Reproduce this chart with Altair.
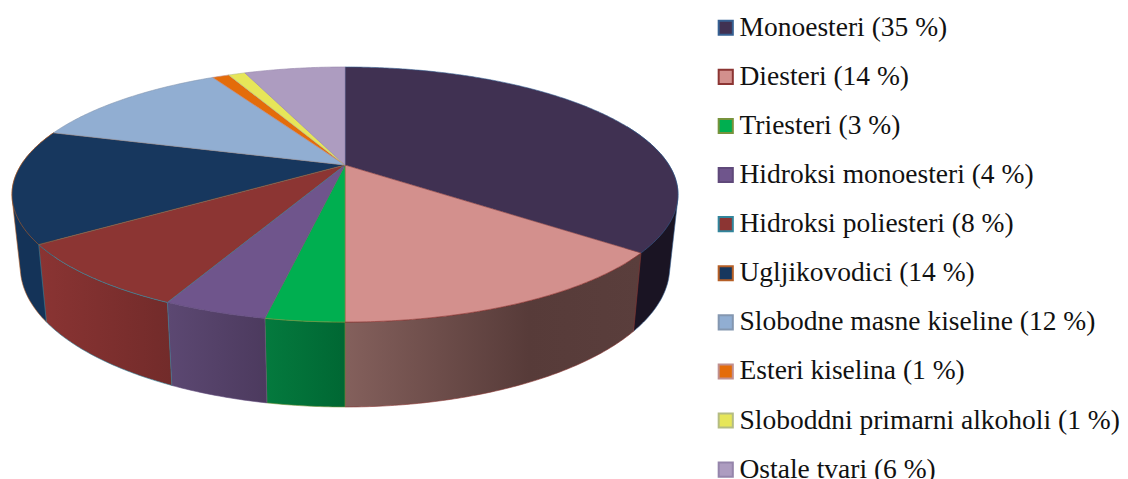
import math
import altair as alt
import pandas as pd

categories = ["Monoesteri", "Diesteri", "Triesteri", "Hidroksi monoesteri", "Hidroksi poliesteri",
              "Ugljikovodici", "Slobodne masne kiseline", "Esteri kiselina",
              "Sloboddni primarni alkoholi", "Ostale tvari"]
shares = [35, 14, 3, 4, 8, 14, 12, 1, 1, 6]

top_colors = ["#403152", "#d3908d", "#00af50", "#6f558c", "#8c3533", "#17375e", "#91aed2", "#e46c0a", "#e6e659", "#ad9cc0"]
edge_colors = ["#366092", "#8c3533", "#77933c", "#5f497a", "#31859c", "#b65f26", "#8497b0", "#c09090", "#b4bc84", "#9585ab"]
wall_stops = [
    ["#1a1423", "#1a1423"], ["#84605c", "#573b39", "#5a3e3c"], ["#047a3e", "#006733"],
    ["#5c4872", "#4c3a5e"], ["#8a3433", "#722b2a"], ["#143358", "#143358"],
]

labels = [f"{c} ({s} %)" for c, s in zip(categories, shares)]
total = sum(shares)

# perspective view of the disc, in page pixels
CX, CY, A, B, K = 345.0, 165.0, 324.0, 120.7, 59 / 255
SHRINK, D0, D1 = 0.975, 19.0, 50.7


def top(theta):
    X, Y = math.sin(theta), math.cos(theta)
    w = 1 + K * Y
    return CX + A * X / w, CY - B * Y / w


def bottom(theta):
    x, y = top(theta)
    w = 1 + K * math.cos(theta)
    return CX + SHRINK * (x - CX), y + D0 + D1 / w


def arc(a0, a1):
    n = max(2, int(abs(a1 - a0) / 0.01))
    return [a0 + (a1 - a0) * i / n for i in range(n + 1)]


def hull(points):
    pts = sorted(set(points))

    def half(seq):
        out = []
        for p in seq:
            while len(out) > 1 and (out[-1][0] - out[-2][0]) * (p[1] - out[-2][1]) - (out[-1][1] - out[-2][1]) * (p[0] - out[-2][0]) <= 0:
                out.pop()
            out.append(p)
        return out[:-1]

    return half(pts) + half(pts[::-1])


edges, acc = [], 0
for s in shares:
    edges.append((acc / total * 2 * math.pi, (acc + s) / total * 2 * math.pi))
    acc += s

rows = []
for label, (a0, a1) in zip(labels, edges):
    pts = [(CX, CY)] + [top(t) for t in arc(a0, a1)] + [(CX, CY)]
    for i, (x, y) in enumerate(pts):
        rows.append({"label": label, "i": i, "x": x, "y": y})
top_df = pd.DataFrame(rows)

x_scale = alt.Scale(domain=[8, 1120], nice=False, zero=False)
y_scale = alt.Scale(domain=[479, 8], nice=False, zero=False)
X_ = alt.X("x:Q", scale=x_scale, axis=None)
Y_ = alt.Y("y:Q", scale=y_scale, axis=None)

WALL_MIN, WALL_MAX = math.radians(70), math.radians(290)
layers = []
for k in [0, 5, 1, 2, 3, 4]:
    a0, a1 = edges[k]
    lo, hi = max(a0, WALL_MIN), min(a1, WALL_MAX)
    ts = arc(lo, hi)
    if k in (0, 5):
        pts = hull([top(t) for t in ts] + [bottom(t) for t in ts])
    else:
        pts = [top(t) for t in ts] + [bottom(t) for t in reversed(ts)]
    pts.append(pts[0])
    df = pd.DataFrame({"x": [p[0] for p in pts], "y": [p[1] for p in pts], "i": range(len(pts))})
    cols = wall_stops[k]
    if k == 1:
        stops = [alt.GradientStop(color=cols[0], offset=0), alt.GradientStop(color=cols[1], offset=0.62),
                 alt.GradientStop(color=cols[2], offset=1)]
    else:
        stops = [alt.GradientStop(color=cols[0], offset=0), alt.GradientStop(color=cols[-1], offset=1)]
    grad = alt.Gradient(gradient="linear", stops=stops, x1=0, x2=1, y1=0, y2=0)
    layers.append(
        alt.Chart(df).mark_line(filled=True, fill=grad, stroke=edge_colors[k], strokeWidth=0.6, clip=True)
        .encode(x=X_, y=Y_, order=alt.Order("i:Q"))
    )

legend = alt.Legend(title=None, orient="none", legendX=704, legendY=6, symbolType="square",
                    symbolSize=200, symbolStrokeWidth=2, labelFont="Liberation Serif", labelFontSize=27.5,
                    labelColor="#111111", labelLimit=600, rowPadding=20.1, labelOffset=0, values=labels)
fill_scale = alt.Scale(domain=labels, range=top_colors)
stroke_scale = alt.Scale(domain=labels, range=edge_colors)

key_df = pd.DataFrame({"label": labels, "x": [CX] * len(labels), "y": [CY] * len(labels)})
keys = alt.Chart(key_df).mark_point(filled=True, shape="square", size=1, opacity=1).encode(
    x=X_, y=Y_,
    fill=alt.Fill("label:N", scale=fill_scale, sort=labels, legend=legend),
    stroke=alt.Stroke("label:N", scale=stroke_scale, sort=labels, legend=legend),
)

tops = alt.Chart(top_df).mark_line(filled=True, strokeWidth=0.6).encode(
    x=X_, y=Y_, order=alt.Order("i:Q"),
    fill=alt.Fill("label:N", scale=fill_scale, sort=labels, legend=None),
    stroke=alt.Stroke("label:N", scale=stroke_scale, sort=labels, legend=None),
)

chart = alt.layer(*layers, keys, tops).properties(
    width=1112, height=471, padding=0, autosize=alt.AutoSizeParams(type="none"), background="white"
).configure_view(stroke=None)

chart.save("out.html", embed_options={"renderer": "svg", "actions": False})
